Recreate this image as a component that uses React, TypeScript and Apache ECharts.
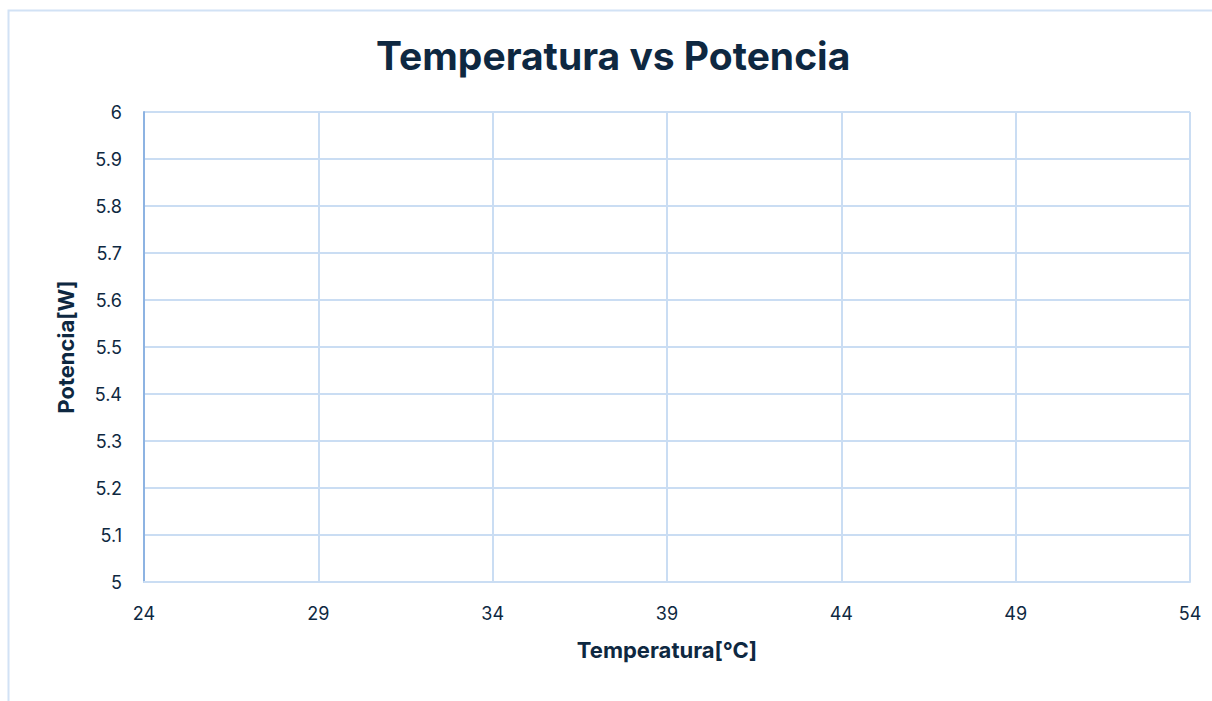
import React, { useEffect, useRef } from "react";
import * as echarts from "echarts";

const titleText = "Temperatura vs Potencia";
const xName = "Temperatura[°C]";
const yName = "Potencia[W]";
const temperatura: number[] = [];
const potencia: number[] = [];
const xTicks = [24, 29, 34, 39, 44, 49, 54];
const yMin = 5;
const yMax = 6;
const yStep = 0.1;

const textColor = "#0E2841";
const gridColor = "#CADDF3";
const axisColor = "#8DB3E2";
const font = "Inter, 'Noto Sans', sans-serif";

export default function App() {
  const ref = useRef<HTMLDivElement>(null);
  useEffect(() => {
    if (!ref.current) return;
    const chart = echarts.init(ref.current, null, { renderer: "svg" });
    const points = temperatura.map((t, i) => [t, potencia[i]]);
    chart.setOption({
      animation: false,
      backgroundColor: "#ffffff",
      textStyle: { fontFamily: font, color: textColor },
      title: {
        text: titleText,
        left: 371,
        top: 31,
        textStyle: { fontFamily: font, fontSize: 39, fontWeight: "bold", color: textColor },
      },
      graphic: [
        {
          type: "rect",
          shape: { x: 8.5, y: 10.5, width: 1240, height: 720 },
          style: { fill: "none", stroke: "#D2E2F5", lineWidth: 2 },
          silent: true,
        },
      ],
      grid: { left: 144, right: 22, top: 112, bottom: 119, containLabel: false },
      xAxis: {
        type: "value",
        min: xTicks[0],
        max: xTicks[xTicks.length - 1],
        name: xName,
        nameLocation: "middle",
        nameGap: 57,
        nameTextStyle: { fontFamily: font, fontSize: 22, fontWeight: "bold", color: textColor },
        axisLine: { show: true, lineStyle: { color: gridColor, width: 2 } },
        axisTick: { show: false, customValues: xTicks },
        axisLabel: {
          customValues: xTicks,
          fontFamily: font,
          fontSize: 18,
          color: textColor,
          margin: 22,
        },
        splitLine: { show: true, lineStyle: { color: gridColor, width: 2 } },
      },
      yAxis: {
        type: "value",
        min: yMin,
        max: yMax,
        interval: yStep,
        name: yName,
        nameLocation: "middle",
        nameGap: 67,
        nameTextStyle: { fontFamily: font, fontSize: 22, fontWeight: "bold", color: textColor },
        axisLine: { show: true, lineStyle: { color: axisColor, width: 2 } },
        axisTick: { show: false },
        axisLabel: {
          fontFamily: font,
          fontSize: 18,
          color: textColor,
          margin: 22,
          formatter: (v: number) => String(Math.round(v * 10) / 10),
        },
        splitLine: { show: true, lineStyle: { color: gridColor, width: 2 } },
      },
      series: [
        {
          type: "scatter",
          data: points,
          itemStyle: { color: "#156082" },
        },
      ],
    });
    return () => chart.dispose();
  }, []);
  return (
    <div
      ref={ref}
      style={{ position: "absolute", left: 0, top: 0, width: 1212, height: 701 }}
    />
  );
}
